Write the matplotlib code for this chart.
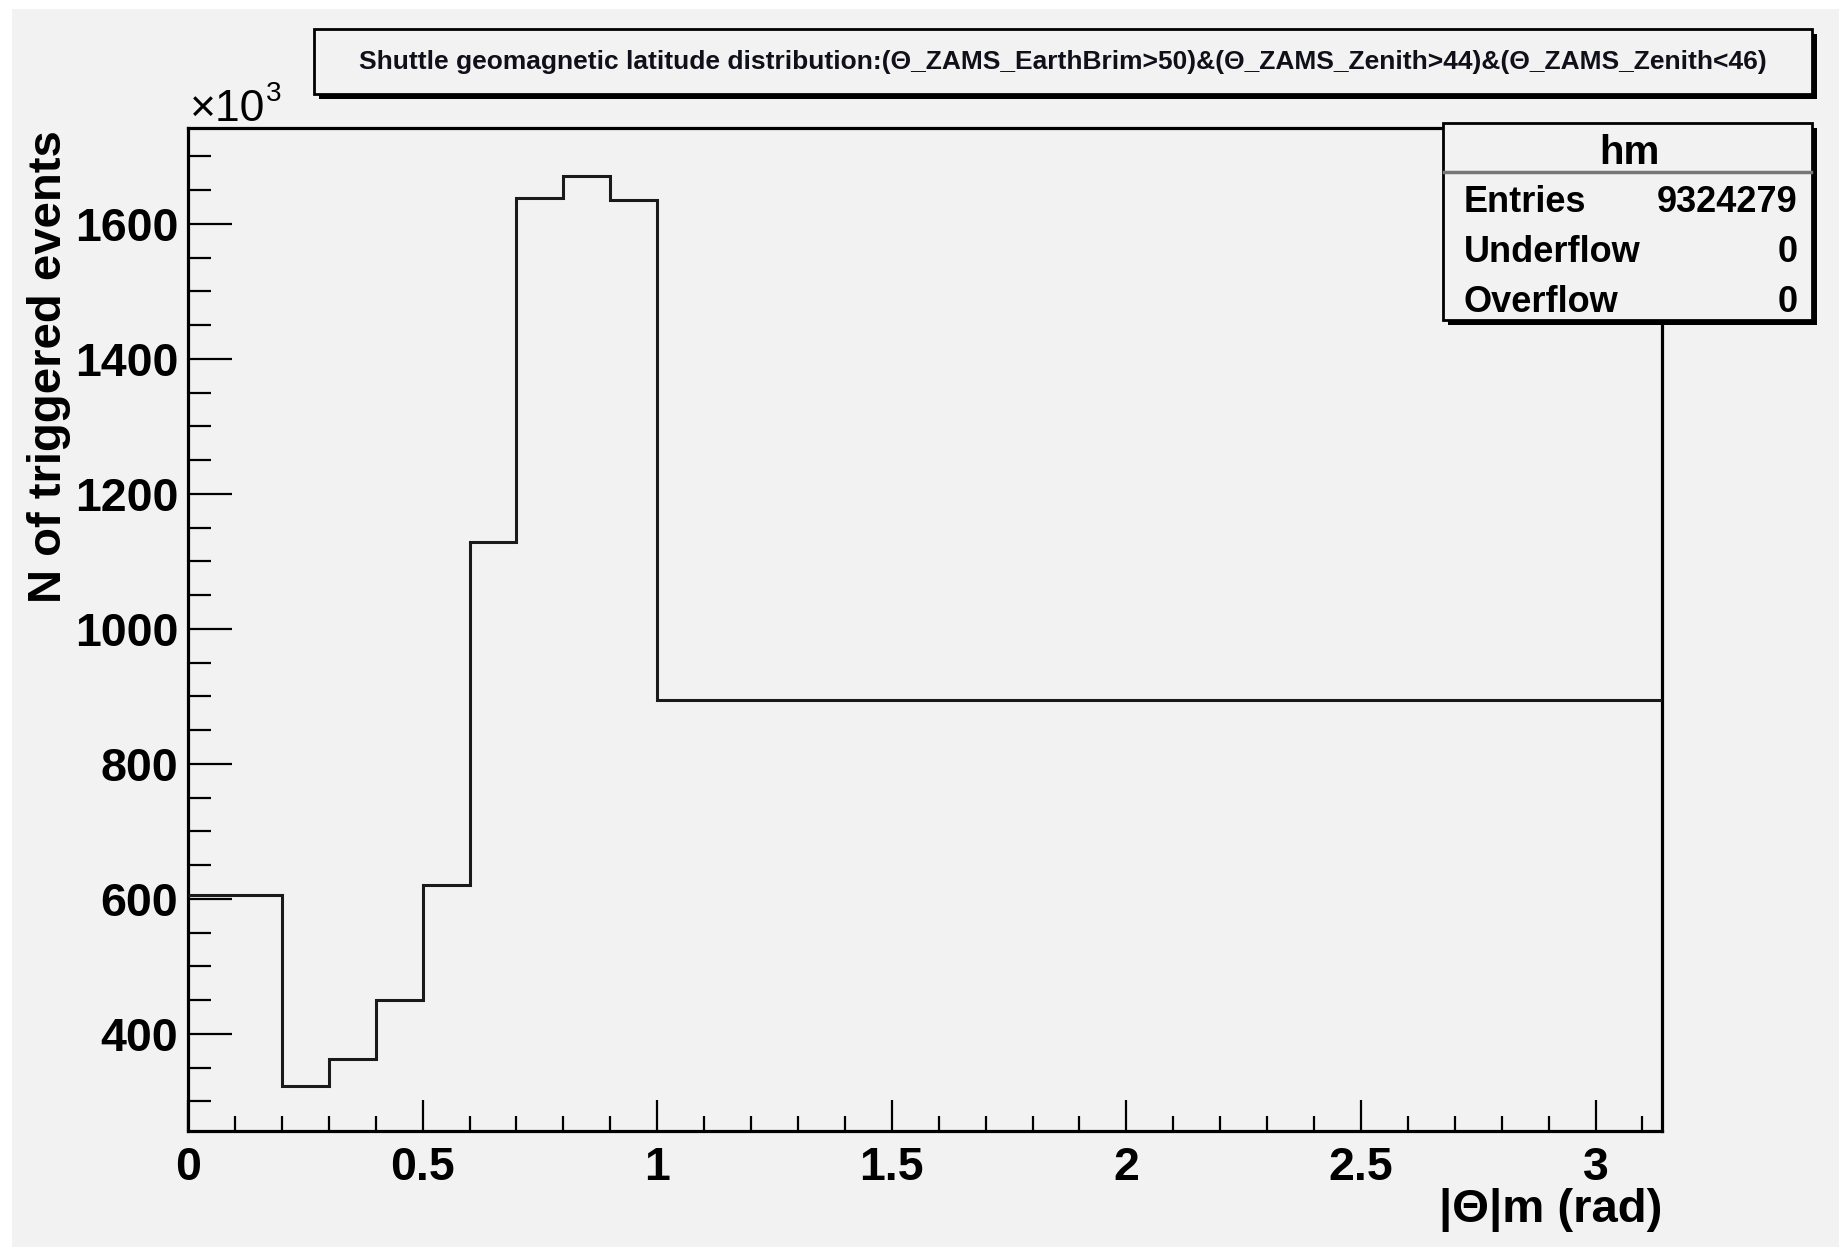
import matplotlib
matplotlib.use("Agg")
import matplotlib.pyplot as plt
from matplotlib.patches import Rectangle
from matplotlib.ticker import MultipleLocator, FixedLocator

# ---- data ----
bin_edges = [0.0, 0.2, 0.3, 0.4, 0.5, 0.6, 0.7, 0.8, 0.9, 1.0, 3.14159]
counts_k = [605, 323, 363, 450, 621, 1128, 1638, 1671, 1636, 894]   # in units of 10^3
x_ticks = [0, 0.5, 1, 1.5, 2, 2.5, 3]
x_ticklabels = ["0", "0.5", "1", "1.5", "2", "2.5", "3"]
y_ticks = [400, 600, 800, 1000, 1200, 1400, 1600]
title_text = ("Shuttle geomagnetic latitude distribution:(\u0398_ZAMS_EarthBrim>50)&"
              "(\u0398_ZAMS_Zenith>44)&(\u0398_ZAMS_Zenith<46)")
stats_name = "hm"
stats_rows = [("Entries", "9324279"), ("Underflow", "0"), ("Overflow", "0")]
x_label = "|\u0398|m (rad)"
y_label = "N of triggered events"

W, H = 1840, 1247
DPI = 100
BG = "#f2f2f2"
FONT = "Liberation Sans"

fig = plt.figure(figsize=(W / DPI, H / DPI), dpi=DPI, facecolor=BG)

def fx(px):
    return px / W

def fy(py):
    return 1 - py / H

# thin white strips at top and left
fig.patches.append(Rectangle((0, 0), fx(12), 1, transform=fig.transFigure,
                             facecolor="white", edgecolor="none", zorder=-5))
fig.patches.append(Rectangle((0, fy(9)), 1, 9 / H, transform=fig.transFigure,
                             facecolor="white", edgecolor="none", zorder=-5))

ax_l, ax_r, ax_t, ax_b = 188, 1662, 128, 1131
ax = fig.add_axes([fx(ax_l), fy(ax_b), fx(ax_r - ax_l), (ax_b - ax_t) / H])
ax.set_facecolor(BG)
ax.stairs(counts_k, bin_edges, baseline=None, color="#1a1a1a", linewidth=2.2, zorder=3)

ax.set_xlim(0, 3.14159)
ax.set_ylim(256, 1742)
for s in ax.spines.values():
    s.set_linewidth(2.3)
    s.set_color("black")

ax.xaxis.set_major_locator(FixedLocator(x_ticks))
ax.set_xticklabels(x_ticklabels)
ax.xaxis.set_minor_locator(MultipleLocator(0.1))
ax.yaxis.set_major_locator(FixedLocator(y_ticks))
ax.yaxis.set_minor_locator(MultipleLocator(50))
ax.tick_params(axis="x", which="major", direction="in", length=22, width=1.6, pad=11,
               top=False, labelsize=33.5)
ax.tick_params(axis="x", which="minor", direction="in", length=10.5, width=1.6, top=False)
ax.tick_params(axis="y", which="major", direction="in", length=32, width=1.6, pad=7,
               right=False, labelsize=33.5)
ax.tick_params(axis="y", which="minor", direction="in", length=16.5, width=1.6, right=False)
for lab in ax.get_xticklabels() + ax.get_yticklabels():
    lab.set_fontfamily(FONT)
    lab.set_fontweight("bold")

# axis titles
fig.text(fx(ax_r), fy(1210), x_label, ha="right", va="center", fontsize=34,
         fontweight="bold", family=[FONT, "DejaVu Sans"])
fig.text(fx(49), fy(ax_t + 2), y_label, ha="center", va="top", rotation=90,
         fontsize=34, fontweight="bold", family=FONT)

# x10^3 exponent
fig.text(fx(190), fy(121), "\u00d710", ha="left", va="baseline", fontsize=32, family=FONT)
fig.text(fx(266), fy(101), "3", ha="left", va="baseline", fontsize=20, family=FONT)

# boxes with ROOT-style shadow
def box(x0, y0, x1, y1, shadow=5, lw=2.0):
    fig.patches.append(Rectangle((fx(x0 + shadow), fy(y1 + shadow)), fx(x1 - x0), (y1 - y0) / H,
                                 transform=fig.transFigure, facecolor="black",
                                 edgecolor="none", zorder=5))
    fig.patches.append(Rectangle((fx(x0), fy(y1)), fx(x1 - x0), (y1 - y0) / H,
                                 transform=fig.transFigure, facecolor=BG,
                                 edgecolor="black", linewidth=lw, zorder=6))

box(314, 29, 1812, 94)
fig.text(fx(1063), fy(62), title_text, ha="center", va="center", fontsize=19,
         fontweight="bold", family=[FONT, "DejaVu Sans"], zorder=7, color="#10101a")

# stats box
box(1443, 123, 1812, 320)
fig.lines.append(plt.Line2D([fx(1444), fx(1811)], [fy(172), fy(172)], transform=fig.transFigure,
                            color="#777777", linewidth=2.5, zorder=7))
fig.text(fx(1629), fy(153), stats_name, ha="center", va="center", fontsize=29,
         fontweight="bold", family=FONT, zorder=7)
row_y = [203, 253, 303]
for (k, v), yy in zip(stats_rows, row_y):
    fig.text(fx(1464), fy(yy), k, ha="left", va="center", fontsize=26, fontweight="bold",
             family=FONT, zorder=7)
    fig.text(fx(1798), fy(yy), v, ha="right", va="center", fontsize=26, fontweight="bold",
             family=FONT, zorder=7)

fig.savefig("out.png", dpi=DPI, facecolor=BG)
